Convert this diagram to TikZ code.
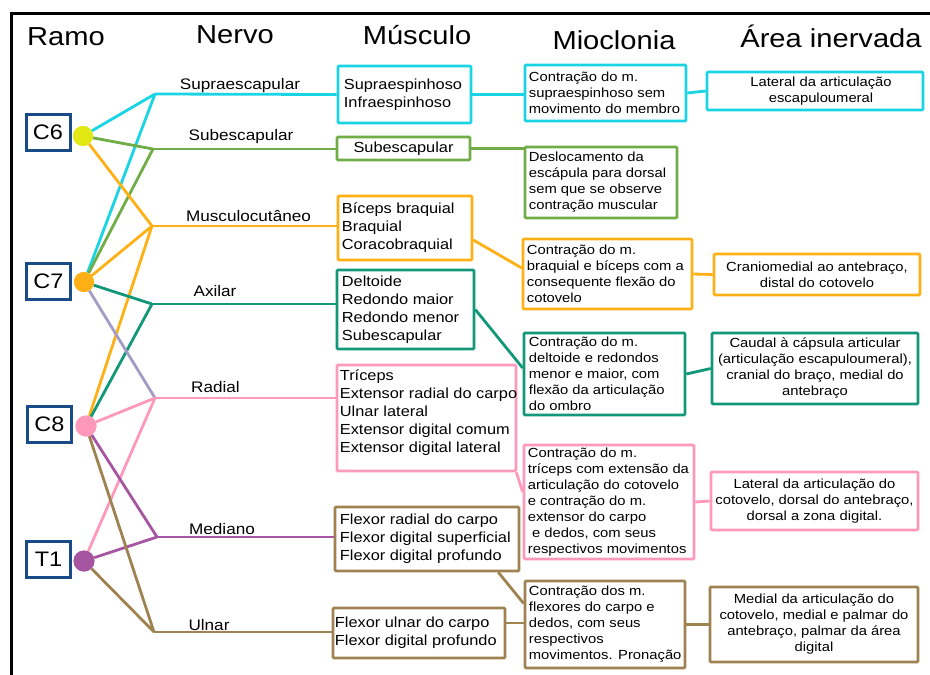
\documentclass[tikz,border=0pt]{standalone}
\usepackage{fontspec}
\setmainfont{Liberation Sans}[FakeStretch=1.12]
\definecolor{cy}{RGB}{25,212,228}
\definecolor{gr}{RGB}{112,173,71}
\definecolor{orc}{RGB}{255,176,20}
\definecolor{te}{RGB}{18,152,120}
\definecolor{pk}{RGB}{255,153,187}
\definecolor{pu}{RGB}{166,85,160}
\definecolor{br}{RGB}{158,130,80}
\definecolor{lav}{RGB}{163,156,198}
\definecolor{ye}{RGB}{226,232,20}
\definecolor{dblue}{RGB}{25,75,135}
\tikzset{
 bx/.style={draw=#1, line width=2.6pt, fill=white, inner sep=0pt, rounded corners=1pt},
 rbox/.style={draw=dblue, line width=3pt, fill=white, minimum width=44pt, minimum height=36pt, inner sep=0pt, font=\fontsize{21}{23}\selectfont},
 dot/.style={circle, fill=#1, minimum size=20pt, inner sep=0pt},
 head/.style={font=\fontsize{26}{28}\selectfont, anchor=base, inner sep=0pt},
 nlab/.style={font=\fontsize{15.3}{17}\selectfont, anchor=base, inner sep=0pt},
 mtxt/.style={font=\fontsize{14.6}{18}\selectfont, align=left, inner sep=0pt, anchor=west},
 ctxt/.style={font=\fontsize{13.2}{16}\selectfont, align=left, inner sep=0pt, anchor=west},
 atxt/.style={font=\fontsize{13.2}{16}\selectfont, align=center, inner sep=0pt},
 ln/.style={draw=#1, line width=2.8pt},
}
\begin{document}
\begin{tikzpicture}[x=1pt,y=-1pt]
\useasboundingbox (0,0) rectangle (930,675);
\fill[white] (0,0) rectangle (930,675);
% frame
\draw[line width=3pt] (11,676) -- (11,13) -- (931,13);
% headers
\node[head] (hramo) at (66,45) {Ramo};
\node[head] (hnervo) at (235,43) {Nervo};
\node[head] (hmusc) at (417,44) {Músculo};
\node[head] (hmio) at (614,49) {Mioclonia};
\node[head] (harea) at (831,47) {Área inervada};
% ramo boxes
\node[rbox] (bc6) at (48,132.5) {C6};
\node[rbox] (bc7) at (48.5,281.5) {C7};
\node[rbox] (bc8) at (49.5,424) {C8};
\node[rbox] (bt1) at (48.5,559) {T1};
% dots
\node[dot=ye] (c6) at (83,136) {};
\node[dot=orc] (c7) at (84,282) {};
\node[dot=pk, minimum size=21pt] (c8) at (86,426) {};
\node[dot=pu, minimum size=21pt] (t1) at (84,561) {};
% branch points
\coordinate (sup) at (155,94);
\coordinate (sub) at (153,149);
\coordinate (mus) at (152,226);
\coordinate (axi) at (152,304);
\coordinate (rad) at (155,398);
\coordinate (med) at (157,537);
\coordinate (uln) at (154,632);
% muscle boxes
\node[bx=cy, minimum width=133pt, minimum height=57pt] (m1) at (404.5,94.5) {};
\node[bx=gr, minimum width=133pt, minimum height=23pt] (m2) at (403.5,148.5) {};
\node[bx=orc, minimum width=134pt, minimum height=64pt] (m3) at (405,228) {};
\node[bx=te, minimum width=137pt, minimum height=79pt] (m4) at (405.5,309.5) {};
\node[bx=pk, minimum width=179pt, minimum height=106pt] (m5) at (426.5,418) {};
\node[bx=br, minimum width=184pt, minimum height=64pt] (m6) at (427,539) {};
\node[bx=br, minimum width=172pt, minimum height=50pt] (m7) at (419,633) {};
% mioclonia boxes
\node[bx=cy, minimum width=161pt, minimum height=56pt] (k1) at (605.5,93) {};
\node[bx=gr, minimum width=152pt, minimum height=71pt] (k2) at (601,182.5) {};
\node[bx=orc, minimum width=169pt, minimum height=70pt] (k3) at (607.5,274) {};
\node[bx=te, minimum width=161pt, minimum height=82pt] (k4) at (604.5,374) {};
\node[bx=pk, minimum width=170pt, minimum height=114pt] (k5) at (609,502) {};
\node[bx=br, minimum width=160pt, minimum height=87pt] (k6) at (605,624.5) {};
% area boxes
\node[bx=cy, minimum width=216pt, minimum height=38pt] (a1) at (815,91) {};
\node[bx=orc, minimum width=206pt, minimum height=41pt] (a2) at (817,274.5) {};
\node[bx=te, minimum width=206pt, minimum height=71pt] (a3) at (815,368.5) {};
\node[bx=pk, minimum width=207pt, minimum height=58pt] (a4) at (814.5,501) {};
\node[bx=br, minimum width=208pt, minimum height=75pt] (a5) at (814,624.5) {};
% root to branch lines
\draw[ln=cy] (c6) -- (sup);
\draw[ln=cy] (c7) -- (sup);
\draw[ln=gr] (c6) -- (sub);
\draw[ln=gr] (c7) -- (sub);
\draw[ln=orc] (c6) -- (mus);
\draw[ln=orc] (c7) -- (mus);
\draw[ln=orc] (c8) -- (mus);
\draw[ln=te] (c7) -- (axi);
\draw[ln=te] (c8) -- (axi);
\draw[ln=lav] (c7) -- (rad);
\draw[ln=pk] (c8) -- (rad);
\draw[ln=pk] (t1) -- (rad);
\draw[ln=pu] (c8) -- (med);
\draw[ln=pu] (t1) -- (med);
\draw[ln=br] (c8) -- (uln);
\draw[ln=br] (t1) -- (uln);
% branch to muscle
\draw[ln=cy] (sup) -- (m1.west);
\draw[ln=gr] (sub) -- (sub -| m2.west);
\draw[ln=orc] (mus) -- (mus -| m3.west);
\draw[ln=te] (axi) -- (axi -| m4.west);
\draw[ln=pk] (rad) -- (rad -| m5.west);
\draw[ln=pu] (med) -- (med -| m6.west);
\draw[ln=br] (uln) -- (uln -| m7.west);
% muscle to mioclonia
\draw[ln=cy] (m1.east) -- (m1.east -| k1.west);
\draw[ln=gr] (m2.east) -- (m2.east -| k2.west);
\draw[ln=orc] ([yshift=-12pt]m3.east) -- ([yshift=6pt]k3.west);
\draw[ln=te] (m4.east) -- ([yshift=6pt]k4.west);
\draw[ln=pk] ([xshift=-1pt]m5.south east) -- ([yshift=10pt]k5.west);
\draw[ln=br] ([xshift=-22pt]m6.south east) -- ([yshift=21pt]k6.west);
\draw[ln=br] ([yshift=10pt]m7.east) -- ([yshift=10pt]m7.east -| k6.west);
% mioclonia to area
\draw[ln=cy] (k1.east) -- (a1.west);
\draw[ln=orc] (k3.east) -- (a2.west);
\draw[ln=te] (k4.east) -- (a3.west);
\draw[ln=pk] (k5.east) -- (a4.west);
\draw[ln=br] (k6.east) -- (a5.west);
% redraw dots on top
\node[dot=ye] at (c6) {};
\node[dot=orc] at (c7) {};
\node[dot=pk, minimum size=21pt] at (c8) {};
\node[dot=pu, minimum size=21pt] at (t1) {};
% nerve labels
\node[nlab] (lsup) at (240,89) {Supraescapular};
\node[nlab] (lsub) at (241,140) {Subescapular};
\node[nlab] (lmus) at (248.5,221) {Musculocutâneo};
\node[nlab] (laxi) at (215,296) {Axilar};
\node[nlab] (lrad) at (215.5,392) {Radial};
\node[nlab] (lmed) at (222,534) {Mediano};
\node[nlab] (luln) at (209,630) {Ulnar};
% muscle texts
\node[mtxt] (m1t) at ([xshift=7pt]m1.west) {Supraespinhoso\\Infraespinhoso};
\node[mtxt, anchor=center] (m2t) at (m2) {Subescapular};
\node[mtxt] (m3t) at ([xshift=5pt]m3.west) {Bíceps braquial\\Braquial\\Coracobraquial};
\node[mtxt] (m4t) at ([xshift=6pt]m4.west) {Deltoide\\Redondo maior\\Redondo menor\\Subescapular};
\node[mtxt, anchor=north west] (m5t) at ([xshift=4pt,yshift=-6pt]m5.north west) {Tríceps\\Extensor radial do carpo\\Ulnar lateral\\Extensor digital comum\\Extensor digital lateral};
\node[mtxt] (m6t) at ([xshift=6pt]m6.west) {Flexor radial do carpo\\Flexor digital superficial\\Flexor digital profundo};
\node[mtxt] (m7t) at ([xshift=3pt]m7.west) {Flexor ulnar do carpo\\Flexor digital profundo};
% mioclonia texts
\node[ctxt] (k1t) at ([xshift=5pt]k1.west) {Contração do m.\\supraespinhoso sem\\movimento do membro};
\node[ctxt] (k2t) at ([xshift=5pt]k2.west) {Deslocamento da\\escápula para dorsal\\sem que se observe\\contração muscular};
\node[ctxt] (k3t) at ([xshift=5pt]k3.west) {Contração do m.\\braquial e bíceps com a\\consequente flexão do\\cotovelo};
\node[ctxt] (k4t) at ([xshift=6pt]k4.west) {Contração do m.\\deltoide e redondos\\menor e maior, com\\flexão da articulação\\do ombro};
\node[ctxt] (k5t) at ([xshift=5pt]k5.west) {Contração do m.\\tríceps com extensão da\\articulação do cotovelo\\e contração do m.\\extensor do carpo\\\ e dedos, com seus\\respectivos movimentos};
\node[ctxt] (k6t) at ([xshift=5pt]k6.west) {Contração dos m.\\flexores do carpo e\\dedos, com seus\\respectivos\\movimentos. Pronação};
% area texts
\node[atxt] (a1t) at ([xshift=6pt]a1) {Lateral da articulação\\escapuloumeral};
\node[atxt] (a2t) at (a2) {Craniomedial ao antebraço,\\distal do cotovelo};
\node[atxt] (a3t) at (a3) {Caudal à cápsula articular\\(articulação escapuloumeral),\\cranial do braço, medial do\\antebraço};
\node[atxt] (a4t) at (a4) {Lateral da articulação do\\cotovelo, dorsal do antebraço,\\dorsal a zona digital.};
\node[atxt] (a5t) at (a5) {Medial da articulação do\\cotovelo, medial e palmar do\\antebraço, palmar da área\\digital};
\end{tikzpicture}
\end{document}
